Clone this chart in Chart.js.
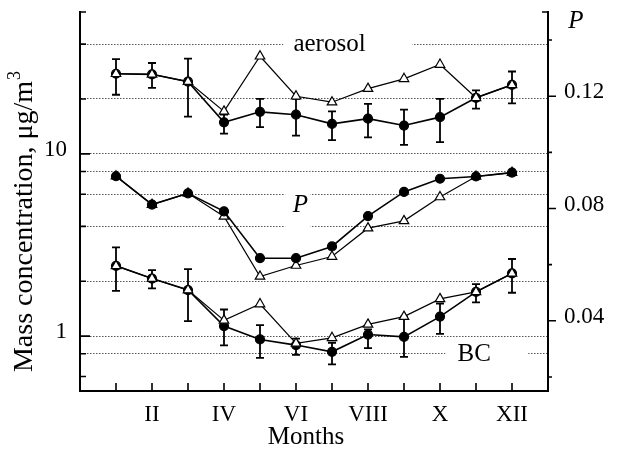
<!DOCTYPE html>
<html>
<head>
<meta charset="utf-8">
<script src="https://cdn.jsdelivr.net/npm/chart.js@4.4.1/dist/chart.umd.min.js"></script>
<style>
  html, body { margin: 0; padding: 0; background: #fff; }
</style>
</head>
<body>
<canvas id="myChart" width="622" height="450"></canvas>
<script>
// months on the x axis, roman labels on even months only
var months = [1, 2, 3, 4, 5, 6, 7, 8, 9, 10, 11, 12];
var monthLabels = { 2: 'II', 4: 'IV', 6: 'VI', 8: 'VIII', 10: 'X', 12: 'XII' };

// aerosol mass concentration, ug/m3 (left, log)
var aerosolDots = [27.5, 27.3, 24.9, 14.9, 17.0, 16.4, 14.6, 15.6, 14.3, 15.9, 20.3, 23.9];
var aerosolTri  = [27.5, 27.3, 24.9, 17.1, 34.3, 20.7, 19.2, 22.8, 25.8, 30.9, 20.3, 23.9];
var aerosolLow  = [21.1, 23.0, 16.0, 12.9, 14.0, 12.6, 11.9, 12.3, 11.2, 11.6, 17.7, 18.9];
var aerosolHigh = [33.1, 31.5, 33.3, 16.4, 20.0, 20.0, 17.1, 18.8, 17.5, 20.0, 22.3, 28.3];

// P (right, linear)
var pDots = [0.0915, 0.0814, 0.0854, 0.0790, 0.0623, 0.0623, 0.0665, 0.0773, 0.0859, 0.0906, 0.0914, 0.0928];
var pTri  = [0.0915, 0.0814, 0.0854, 0.0772, 0.0558, 0.0597, 0.0629, 0.0730, 0.0756, 0.0841, 0.0914, 0.0928];

// BC mass concentration (left, log)
var bcDots = [2.43, 2.07, 1.79, 1.135, 0.959, 0.893, 0.82, 1.02, 0.99, 1.28, 1.75, 2.21];
var bcTri  = [2.43, 2.07, 1.79, 1.22, 1.50, 0.912, 0.979, 1.16, 1.28, 1.60, 1.75, 2.21];
var bcLow  = [1.77, 1.83, 1.21, 0.89, 0.76, 0.79, 0.70, 0.86, 0.77, 1.03, 1.53, 1.73];
var bcHigh = [3.07, 2.30, 2.33, 1.40, 1.15, 0.97, 0.92, 1.09, 1.28, 1.51, 1.93, 2.65];

// axis ticks
var massTicks = [0.6, 0.8, 1, 2, 4, 6, 8, 10, 20, 40, 60];
var massLabels = { 1: '1', 10: '10' };
var pTicks = [0.02, 0.04, 0.06, 0.08, 0.10, 0.12, 0.14, 0.15];
var pLabels = { 4: '0.04', 8: '0.08', 12: '0.12' };

var serif = '"Liberation Serif", "Times New Roman", serif';

function pts(arr) {
  return months.map(function (m, i) { return { x: m, y: arr[i] }; });
}

function series(arr, axis, tri, order) {
  return {
    data: pts(arr),
    yAxisID: axis,
    order: order,
    borderColor: '#000',
    borderWidth: tri ? 1.2 : 1.6,
    pointStyle: tri ? 'triangle' : 'circle',
    pointRadius: tri ? 5.5 : 4.5,
    pointBorderWidth: 1.2,
    pointBackgroundColor: tri ? '#fff' : '#000',
    pointBorderColor: '#000',
    fill: false,
    tension: 0
  };
}

// error bars drawn under the markers
var errorBars = {
  id: 'errorBars',
  beforeDatasetsDraw: function (chart) {
    var ctx = chart.ctx, x = chart.scales.x, y = chart.scales.y;
    ctx.save();
    ctx.strokeStyle = '#000';
    ctx.lineWidth = 1.8;
    [[aerosolLow, aerosolHigh], [bcLow, bcHigh]].forEach(function (pair) {
      months.forEach(function (m, i) {
        var px = x.getPixelForValue(m);
        var y1 = y.getPixelForValue(pair[0][i]);
        var y2 = y.getPixelForValue(pair[1][i]);
        ctx.beginPath();
        ctx.moveTo(px, y1); ctx.lineTo(px, y2);
        ctx.moveTo(px - 4, y1); ctx.lineTo(px + 4, y1);
        ctx.moveTo(px - 4, y2); ctx.lineTo(px + 4, y2);
        ctx.stroke();
      });
    });
    ctx.restore();
  }
};

// in-plot labels, each blanking the dotted grid behind it
var plotLabels = [
  { text: 'aerosol', x: 6.93, y: 40, italic: false, gap: [5.65, 9.23], h: 12 },
  { text: 'P', x: 6.12, y: 5.18, italic: true, gap: [5.7, 6.4], h: 22 },
  { text: 'BC', x: 10.95, y: 0.79, italic: false, gap: [10.15, 12.45], h: 10 }
];

var labelsPlugin = {
  id: 'plotLabels',
  beforeDatasetsDraw: function (chart) {
    var ctx = chart.ctx, x = chart.scales.x, y = chart.scales.y;
    ctx.save();
    plotLabels.forEach(function (l) {
      var cx = x.getPixelForValue(l.x), cy = y.getPixelForValue(l.y);
      var g1 = x.getPixelForValue(l.gap[0]), g2 = x.getPixelForValue(l.gap[1]);
      ctx.fillStyle = '#fff';
      ctx.fillRect(g1, cy - l.h, g2 - g1, l.h * 2);
      ctx.fillStyle = '#000';
      ctx.font = (l.italic ? 'italic ' : '') + '25px ' + serif;
      ctx.textAlign = 'center';
      ctx.textBaseline = 'middle';
      ctx.fillText(l.text, cx, cy);
    });
    ctx.restore();
  }
};

// inward / outward tick marks and axis titles
var frame = {
  id: 'frame',
  afterDraw: function (chart) {
    var ctx = chart.ctx, a = chart.chartArea;
    var x = chart.scales.x, y = chart.scales.y, p = chart.scales.p;
    ctx.save();
    ctx.strokeStyle = '#000';
    ctx.lineWidth = 1.6;
    ctx.beginPath();
    massTicks.forEach(function (v) {
      var py = y.getPixelForValue(v);
      var len = massLabels[v] ? 10 : 6;
      ctx.moveTo(a.left, py); ctx.lineTo(a.left + len, py);
    });
    pTicks.forEach(function (v, i) {
      var py = p.getPixelForValue(v);
      if (i === pTicks.length - 1) {
        ctx.moveTo(a.right, py); ctx.lineTo(a.right - 6, py);
      } else {
        var len = pLabels[Math.round(v * 100)] ? 8 : 4;
        ctx.moveTo(a.right, py); ctx.lineTo(a.right + len, py);
      }
    });
    months.forEach(function (m) {
      var px = x.getPixelForValue(m);
      ctx.moveTo(px, a.bottom); ctx.lineTo(px, a.bottom - 8);
    });
    ctx.stroke();

    ctx.fillStyle = '#000';
    ctx.textBaseline = 'middle';
    ctx.textAlign = 'center';
    ctx.font = '25px ' + serif;
    ctx.fillText('Months', 306, 437);
    ctx.font = 'italic 25px ' + serif;
    ctx.fillText('P', 576, 21);

    // rotated left title with superscript
    ctx.translate(25, 222);
    ctx.rotate(-Math.PI / 2);
    var main = 'Mass concentration, \u03bcg/m';
    ctx.font = '28px ' + serif;
    var w1 = ctx.measureText(main).width;
    ctx.font = '18px ' + serif;
    var w2 = ctx.measureText('3').width;
    ctx.textAlign = 'left';
    ctx.font = '28px ' + serif;
    ctx.fillText(main, -(w1 + w2) / 2, 0);
    ctx.font = '18px ' + serif;
    ctx.fillText('3', -(w1 + w2) / 2 + w1 + 1, -10);
    ctx.restore();
  }
};

function fixedBox(size, horizontal) {
  return function (s) {
    if (horizontal) s.height = size; else s.width = size;
    s.paddingTop = 0; s.paddingBottom = 0;
    s.paddingLeft = 0; s.paddingRight = 0;
  };
}

var ctx = document.getElementById('myChart').getContext('2d');
var myChart = new Chart(ctx, {
  type: 'line',
  data: {
    datasets: [
      series(aerosolTri, 'y', true, 0),
      series(aerosolDots, 'y', false, 2),
      series(pDots, 'p', false, 1),
      series(pTri, 'p', true, 3),
      series(bcTri, 'y', true, 0),
      series(bcDots, 'y', false, 2)
    ]
  },
  options: {
    responsive: false,
    animation: false,
    layout: { padding: { top: 12, left: 0, right: 0, bottom: 0 } },
    plugins: { legend: { display: false }, tooltip: { enabled: false } },
    scales: {
      x: {
        type: 'linear',
        min: 0,
        max: 13,
        grid: { display: false },
        border: { display: true, color: '#000', width: 2 },
        afterBuildTicks: function (s) { s.ticks = months.map(function (m) { return { value: m }; }); },
        afterFit: fixedBox(59, true),
        ticks: {
          autoSkip: false,
          maxRotation: 0,
          padding: 2,
          color: '#000',
          font: { family: serif, size: 23 },
          callback: function (v) { return monthLabels[v] || ''; }
        }
      },
      y: {
        type: 'logarithmic',
        position: 'left',
        min: 0.5,
        max: 60,
        afterBuildTicks: function (s) { s.ticks = massTicks.map(function (v) { return { value: v }; }); },
        afterFit: fixedBox(80, false),
        grid: {
          drawTicks: false,
          lineWidth: 1,
          color: function (c) {
            var v = c.tick ? c.tick.value : 0;
            return (v === 0.6 || v === 60) ? 'rgba(0,0,0,0)' : '#555';
          }
        },
        border: { display: true, color: '#000', width: 2, dash: [1.5, 1.5] },
        ticks: {
          padding: 13,
          labelOffset: -4,
          color: '#000',
          font: { family: serif, size: 23 },
          callback: function (v) { return massLabels[v] || ''; }
        }
      },
      p: {
        type: 'linear',
        position: 'right',
        min: 0.015,
        max: 0.15,
        afterBuildTicks: function (s) { s.ticks = pTicks.map(function (v) { return { value: v }; }); },
        afterFit: fixedBox(74, false),
        grid: { drawOnChartArea: false, drawTicks: false },
        border: { display: true, color: '#000', width: 2 },
        ticks: {
          padding: 16,
          labelOffset: -4,
          color: '#000',
          font: { family: serif, size: 23 },
          callback: function (v) { return pLabels[Math.round(v * 100)] || ''; }
        }
      }
    }
  },
  plugins: [errorBars, labelsPlugin, frame]
});
</script>
</body>
</html>
